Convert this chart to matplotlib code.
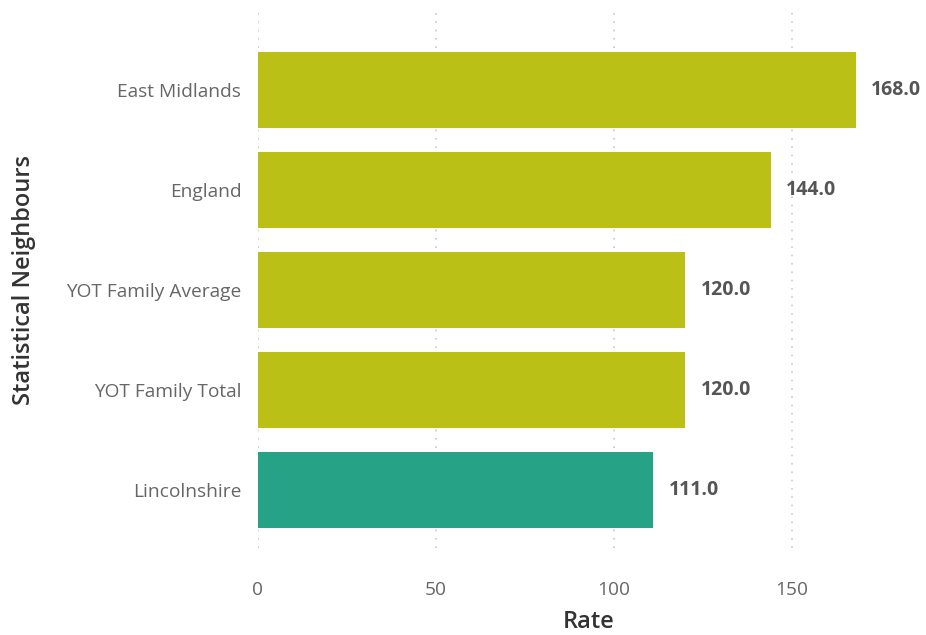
import matplotlib
matplotlib.use("Agg")
import matplotlib.pyplot as plt

categories = ["East Midlands", "England", "YOT Family Average", "YOT Family Total", "Lincolnshire"]
rates = [168.0, 144.0, 120.0, 120.0, 111.0]
bar_colors = ["#BAC016", "#BAC016", "#BAC016", "#BAC016", "#26A386"]
xticks = [0, 50, 100, 150]

plt.rcParams['font.family'] = ['Open Sans', 'DejaVu Sans']

fig = plt.figure(figsize=(9.26, 6.35), dpi=100)
ax = fig.add_axes([0.2786, 0.137, 0.715, 0.844])

ypos = list(range(len(categories)))
ax.barh(ypos, rates, height=0.76, color=bar_colors, zorder=2)

for y, v in zip(ypos, rates):
    ax.annotate(f"{v:.1f}", (v, y), xytext=(11, 0), textcoords="offset points",
                va="center", ha="left", fontsize=14, fontweight="bold", color="#555555")

ax.set_xlim(0, 186)
ax.set_ylim(4.58, -0.78)
ax.set_yticks(ypos)
ax.set_yticklabels(categories)
ax.set_xticks(xticks)
ax.tick_params(axis="both", length=0, labelsize=13.8, labelcolor="#666666")
ax.tick_params(axis="y", pad=12)
ax.tick_params(axis="x", pad=24)

ax.grid(axis="x", linestyle=(0, (1, 4)), color="#c8c8c8", linewidth=1.2, zorder=0)
ax.grid(axis="y", visible=False)
for s in ax.spines.values():
    s.set_visible(False)

ax.set_xlabel("Rate", fontsize=17, fontweight="semibold", color="#333333", labelpad=8)
ax.set_ylabel("Statistical Neighbours", fontsize=17, fontweight="semibold", color="#333333", labelpad=22)

fig.savefig("out.png", dpi=100)
